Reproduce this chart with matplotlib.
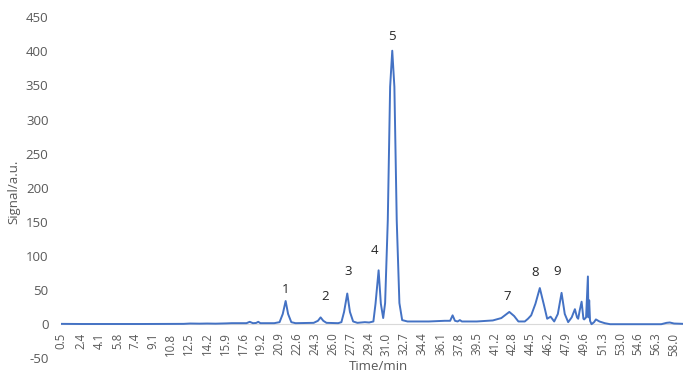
import matplotlib
matplotlib.use("Agg")
import matplotlib.pyplot as plt

# ---- data ----
time_min = [0.5, 2.4, 5.0, 8.0, 12.0, 12.6, 13.5, 14.2, 15.0, 16.0, 16.5, 17.2, 17.9, 18.2, 18.5, 18.8, 19.0, 19.2, 20.5,
            21.0, 21.3, 21.57, 21.8, 22.1, 22.5, 24.2, 24.6, 24.85, 25.1, 25.4, 26.5, 26.8, 27.05, 27.35, 27.6,
            27.9, 28.3, 29.0, 29.4, 29.8, 30.0, 30.29, 30.5, 30.72, 30.9, 31.15, 31.37, 31.57, 31.77, 31.99, 32.24,
            32.5, 33.0, 35.0, 36.5, 37.0, 37.23, 37.45, 37.7, 37.91, 38.1, 39.5, 41.0, 41.8, 42.55, 43.0, 43.4,
            44.0, 44.3, 44.6, 45.0, 45.41, 45.8, 46.1, 46.42, 46.76, 47.1, 47.45, 47.75, 48.07, 48.4, 48.7, 48.9,
            49.01, 49.15, 49.33, 49.5, 49.57, 49.75, 49.92, 49.97, 50.04, 50.12, 50.26, 50.5, 50.67, 51.0, 51.5,
            52.0, 56.8, 57.3, 57.6, 58.0, 58.9]
signal = [0.5, 0.3, 0.3, 0.3, 0.5, 1.0, 0.8, 1.0, 0.8, 1.2, 1.5, 1.5, 1.5, 3.5, 1.5, 1.8, 3.5, 1.5, 1.5,
          3.0, 15.0, 34.0, 15.0, 3.0, 1.5, 2.0, 5.0, 10.0, 5.0, 2.0, 1.5, 3.0, 18.0, 45.0, 18.0,
          4.0, 2.0, 3.0, 2.5, 4.0, 30.0, 79.0, 30.0, 9.0, 31.0, 152.0, 348.0, 401.0, 348.0, 152.0, 31.0,
          6.0, 4.0, 4.0, 5.0, 5.0, 13.0, 5.0, 4.0, 6.0, 4.0, 4.0, 5.5, 9.0, 18.0, 12.0, 4.0,
          4.0, 8.0, 13.0, 30.0, 53.0, 28.0, 8.0, 11.0, 4.0, 15.0, 46.0, 15.0, 3.0, 10.0, 22.0, 10.0,
          8.0, 20.0, 33.0, 8.0, 7.0, 10.0, 70.0, 10.0, 35.0, 5.0, 0.0, 3.0, 7.0, 4.0, 1.5,
          0.0, 0.0, 2.0, 2.5, 1.0, 0.5]

x_tick_labels = ["0.5", "2.4", "4.1", "5.8", "7.4", "9.1", "10.8", "12.5", "14.2", "15.9", "17.6", "19.2",
                 "20.9", "22.6", "24.3", "26.0", "27.7", "29.4", "31.0", "32.7", "34.4", "36.1", "37.8",
                 "39.5", "41.2", "42.8", "44.5", "46.2", "47.9", "49.6", "51.3", "53.0", "54.6", "56.3", "58.0"]
y_ticks = [-50, 0, 50, 100, 150, 200, 250, 300, 350, 400, 450]

peak_labels = ["1", "2", "3", "4", "5", "7", "8", "9"]
peak_label_x = [21.6, 25.26, 27.42, 29.86, 31.54, 42.33, 44.96, 47.02]
peak_label_y = [51, 41, 78, 108, 422, 41, 76, 78]

# ---- figure ----
plt.rcParams['font.family'] = ['Open Sans', 'DejaVu Sans']
W, H = 683, 378
fig = plt.figure(figsize=(W / 100, H / 100), dpi=100)
left_px, right_px, top_px, bottom_px = 61.0, 683.0, 17.3, 358.3
ax = fig.add_axes([left_px / W, 1 - bottom_px / H, (right_px - left_px) / W, (bottom_px - top_px) / H])

label_color = "#595959"
ax.plot(time_min, signal, color="#4472C4", linewidth=1.4, solid_joinstyle="round")

ax.set_xlim(0.5, 58.84)
ax.set_ylim(-50, 450)

for s in ["left", "right", "top"]:
    ax.spines[s].set_visible(False)
ax.spines["bottom"].set_position(("data", 0))
ax.spines["bottom"].set_color("#D9D9D9")
ax.spines["bottom"].set_linewidth(0.8)
ax.spines["bottom"].set_zorder(0)

ax.set_yticks(y_ticks)
ax.set_yticklabels([str(v) for v in y_ticks])
tick_pos = [float(t) for t in x_tick_labels]
ax.set_xticks(tick_pos)
ax.set_xticklabels(x_tick_labels)
ax.tick_params(axis="x", length=0, pad=6, labelsize=8.3, colors=label_color, labelrotation=90)
ax.tick_params(axis="y", length=0, pad=9, labelsize=9.5, colors=label_color)

for lab, px, py in zip(peak_labels, peak_label_x, peak_label_y):
    ax.text(px, py, lab, ha="center", va="center", fontsize=9.5, color="#262626")

fig.text(378 / W, 1 - 367 / H, "Time/min", ha="center", va="center", fontsize=9.5, color=label_color)
fig.text(14 / W, 1 - 192 / H, "Signal/a.u.", ha="center", va="center", rotation=90, fontsize=9.5,
         color=label_color)

fig.savefig("out.png", dpi=100, facecolor="white")
